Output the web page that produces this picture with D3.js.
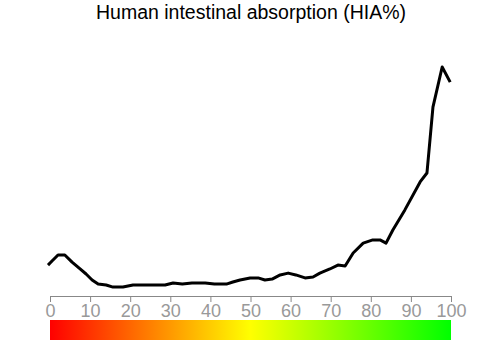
<!DOCTYPE html>
<html>
<head>
<meta charset="utf-8">
<script src="https://cdn.jsdelivr.net/npm/d3@7"></script>
<style>
  body { margin: 0; background: #fff; }
  svg { display: block; font-family: "Liberation Sans", Arial, sans-serif; }
</style>
</head>
<body>
<div id="chart"></div>
<script>
// HIA% on x, density (relative, peak = 1) on y
const hia = [-0.5, 0.5, 2, 3.7, 5.5, 7.5, 9, 10.5, 12, 14, 15.7, 18.2, 20.7, 25, 28.7, 30.7, 33, 35.4, 38.7, 41, 44, 45.6, 47.4, 49.9, 51.9, 53.6, 55.4, 57.4, 59.4, 61.3, 63.6, 65.6, 67.3, 69.8, 71.8, 73.6, 75.6, 78.1, 80.5, 82.3, 83.8, 85.5, 88.5, 92.3, 94, 95.5, 97.8, 99.8];
const density = [0.135, 0.153, 0.179, 0.179, 0.148, 0.118, 0.096, 0.070, 0.052, 0.048, 0.039, 0.039, 0.048, 0.048, 0.048, 0.057, 0.052, 0.057, 0.057, 0.052, 0.052, 0.061, 0.070, 0.079, 0.079, 0.070, 0.074, 0.092, 0.100, 0.092, 0.079, 0.083, 0.100, 0.118, 0.135, 0.131, 0.188, 0.231, 0.245, 0.245, 0.231, 0.288, 0.376, 0.498, 0.537, 0.825, 1.0, 0.934];
const ticks = [0, 10, 20, 30, 40, 50, 60, 70, 80, 90, 100];
const gradStops = [0, 50, 100];
const gradColors = ['#ff0000', '#ffff00', '#00ff00'];

const width = 500, height = 340;
const svg = d3.select('#chart').append('svg')
  .attr('width', width)
  .attr('height', height);

const x = d3.scaleLinear().domain([0, 100]).range([50, 451]);
const y = d3.scaleLinear().domain([0, 1]).range([296, 67]);

svg.append('text')
  .attr('x', 251)
  .attr('y', 19)
  .attr('text-anchor', 'middle')
  .style('font-size', '19.5px')
  .style('fill', '#000')
  .text('Human intestinal absorption (HIA%)');

const pts = hia.map((v, i) => [v, density[i]]);
svg.append('path')
  .datum(pts)
  .attr('fill', 'none')
  .attr('stroke', '#000')
  .attr('stroke-width', 3)
  .attr('stroke-linejoin', 'round')
  .attr('d', d3.line().x(d => x(d[0])).y(d => y(d[1])));

const axis = svg.append('g')
  .attr('transform', 'translate(0,296)')
  .call(d3.axisBottom(x).tickValues(ticks).tickSize(6).tickPadding(2).tickSizeOuter(0));
axis.select('.domain').attr('stroke', '#888');
axis.selectAll('.tick line').attr('stroke', '#888');
axis.selectAll('.tick text')
  .attr('fill', '#999')
  .style('font-size', '18px')
  .style('font-family', '"Liberation Sans", Arial, sans-serif');

const defs = svg.append('defs');
const grad = defs.append('linearGradient').attr('id', 'hiaGrad');
gradStops.forEach((s, i) => {
  grad.append('stop').attr('offset', s + '%').attr('stop-color', gradColors[i]);
});
svg.append('rect')
  .attr('x', x(0))
  .attr('y', 320)
  .attr('width', x(100) - x(0))
  .attr('height', 20)
  .attr('fill', 'url(#hiaGrad)');
</script>
</body>
</html>
